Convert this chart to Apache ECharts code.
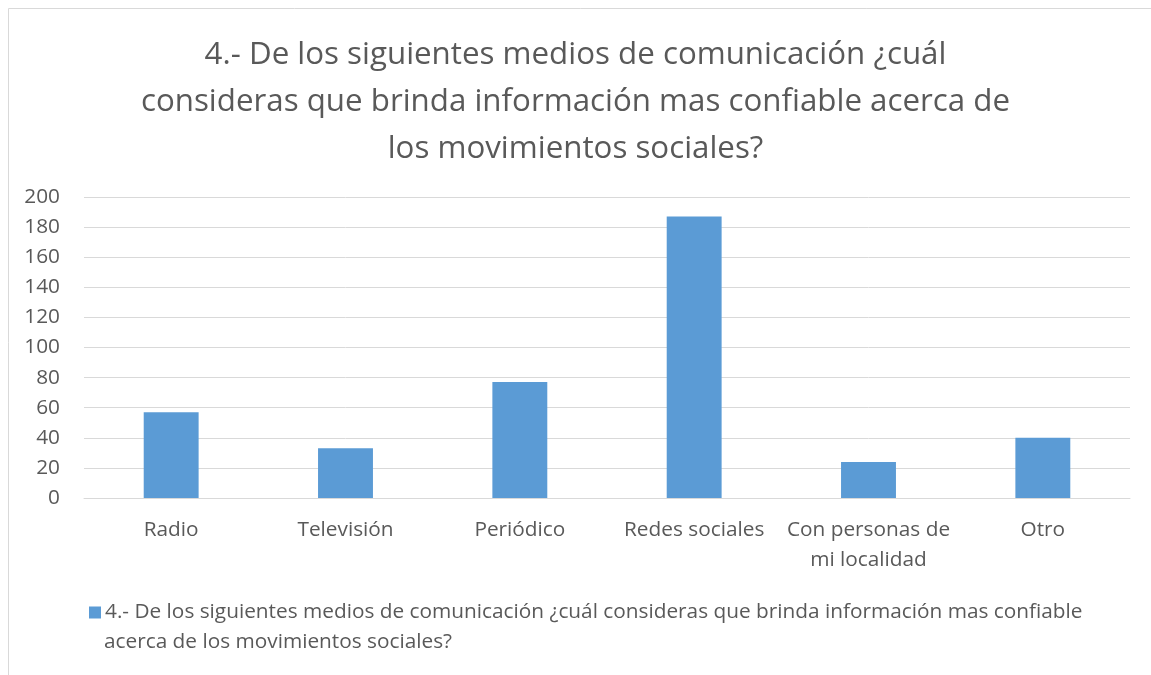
<!DOCTYPE html>
<html>
<head>
<meta charset="utf-8">
<script src="https://cdn.jsdelivr.net/npm/echarts@6/dist/echarts.min.js"></script>
<style>
  html, body { margin: 0; padding: 0; background: #fff; }
  #chart { width: 1151px; height: 675px; }
</style>
</head>
<body>
<div id="chart"></div>
<script>
const categories = ['Radio', 'Televisión', 'Periódico', 'Redes sociales', 'Con personas de\nmi localidad', 'Otro'];
const values = [57, 33, 77, 187, 24, 40];
const seriesName = '4.- De los siguientes medios de comunicación ¿cuál consideras que brinda información mas confiable acerca de los movimientos sociales?';
const titleText = '4.- De los siguientes medios de comunicación ¿cuál\nconsideras que brinda información mas confiable acerca de\nlos movimientos sociales?';

const font = '"Open Sans", Lato, sans-serif';
const textColor = '#595959';
const smallSize = 20.8;

const chart = echarts.init(document.getElementById('chart'));
chart.setOption({
  animation: false,
  color: ['#5B9BD5'],
  graphic: [{
    type: 'rect',
    shape: { x: 8.5, y: 8.5, width: 1200, height: 800 },
    style: { fill: 'none', stroke: '#d9d9d9', lineWidth: 1 },
    silent: true
  }, {
    // second line of the wrapped legend text
    type: 'text',
    left: 104,
    top: 632,
    style: {
      text: 'acerca de los movimientos sociales?',
      font: smallSize + 'px ' + font,
      fill: textColor
    },
    silent: true
  }],
  title: {
    text: titleText,
    left: 'center',
    top: 27,
    textStyle: {
      fontFamily: font,
      fontWeight: 'normal',
      fontSize: 31.3,
      lineHeight: 47,
      color: textColor
    }
  },
  grid: { left: 84, right: 21, top: 197, bottom: 177 },
  legend: {
    left: 84,
    top: 597,
    itemWidth: 12,
    itemHeight: 12,
    itemGap: 4,
    icon: 'rect',
    formatter: function () {
      return '4.- De los siguientes medios de comunicación ¿cuál consideras que brinda información mas confiable';
    },
    textStyle: { fontFamily: font, fontSize: smallSize, color: textColor, padding: [0, 0, 0, -1] }
  },
  xAxis: {
    type: 'category',
    data: categories,
    axisLine: { lineStyle: { color: '#d9d9d9', width: 1 } },
    axisTick: { show: false },
    axisLabel: { interval: 0, color: textColor, fontFamily: font, fontSize: smallSize, lineHeight: 30, margin: 17 }
  },
  yAxis: {
    type: 'value',
    min: 0,
    max: 200,
    interval: 20,
    axisLine: { show: false },
    axisTick: { show: false },
    splitLine: { lineStyle: { color: '#d9d9d9', width: 1 } },
    axisLabel: { color: textColor, fontFamily: font, fontSize: smallSize, margin: 24 }
  },
  series: [{
    name: seriesName,
    type: 'bar',
    data: values,
    barWidth: '31.5%'
  }]
});
</script>
</body>
</html>
